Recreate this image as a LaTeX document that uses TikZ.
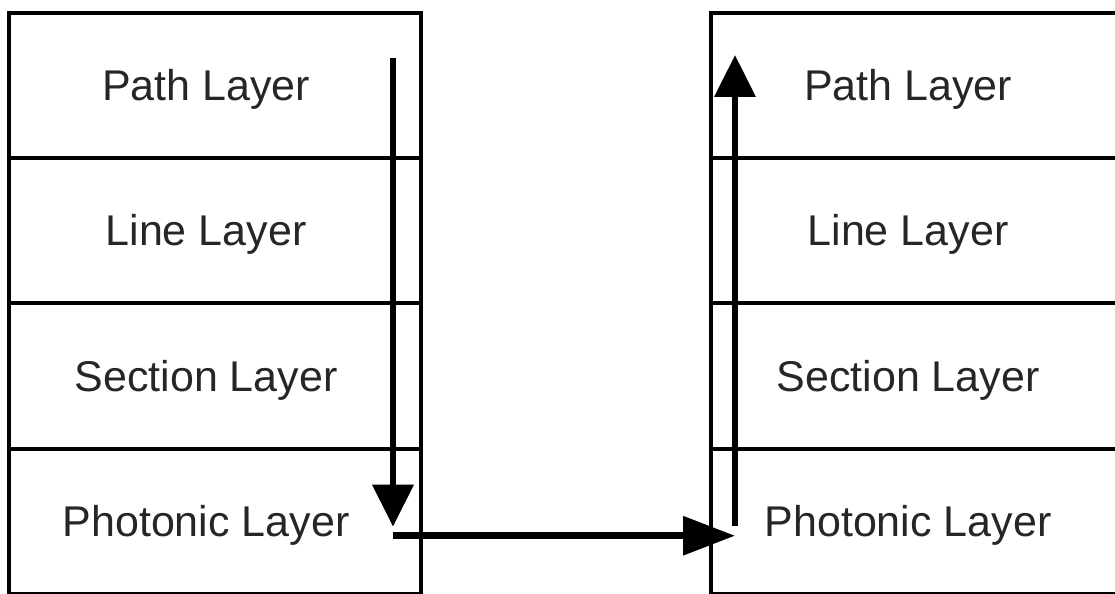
\documentclass[tikz,border=0pt]{standalone}
\usepackage{fontspec}
\setmainfont{Liberation Sans}
\usepackage{tikz}
\usetikzlibrary{positioning,calc,arrows.meta}
\def\LayerW{206pt}
\def\LayerH{72.625pt}
\def\StackGap{145pt}

\tikzset{
  layer/.style={draw, line width=2pt, outer sep=0pt, inner sep=0pt,
    minimum width=\LayerW, minimum height=\LayerH},
  lbl/.style={xshift=-4.5pt, font=\fontsize{21.5pt}{24pt}\selectfont,
    text=black!85, text height=15pt, text depth=0pt, inner sep=0pt},
  flow/.style={line width=3.25pt, -{Triangle[length=21pt,width=20pt]}},
}

\begin{document}
\begin{tikzpicture}[x=0.5pt,y=-0.5pt]
    \path[use as bounding box, clip] (0,0) rectangle (1115,594);
    % sending side
    \node[layer, label={[lbl]center:Path Layer}] (pathL) at (215,85.6) {};
    \node[layer, below=0pt of pathL, label={[lbl]center:Line Layer}] (lineL) {};
    \node[layer, below=0pt of lineL, label={[lbl]center:Section Layer}] (secL) {};
    \node[layer, below=0pt of secL, label={[lbl]center:Photonic Layer}] (photL) {};
    % receiving side
    \node[layer, right=\StackGap of pathL, label={[lbl]center:Path Layer}] (pathR) {};
    \node[layer, below=0pt of pathR, label={[lbl]center:Line Layer}] (lineR) {};
    \node[layer, below=0pt of lineR, label={[lbl]center:Section Layer}] (secR) {};
    \node[layer, below=0pt of secR, label={[lbl]center:Photonic Layer}] (photR) {};
    %
    \coordinate (downA) at ($(pathL.north east)+(-28,45)$);
    \coordinate (downB) at ($(photL.north east)+(-28,78)$);
    \coordinate (hopA) at ($(photL.north east)+(-28,87)$);
    \coordinate (hopB) at ($(photR.north west)+(24,87)$);
    \coordinate (upA) at ($(photR.north west)+(24,77)$);
    \coordinate (upB) at ($(pathR.north west)+(24,42)$);
    %
    \draw[flow] (downA) -- (downB);
    \draw[line width=3.25pt, -{Triangle[length=26pt,width=19pt]}] (hopA) -- (hopB);
    \draw[flow] (upA) -- (upB);
\end{tikzpicture}
\end{document}
